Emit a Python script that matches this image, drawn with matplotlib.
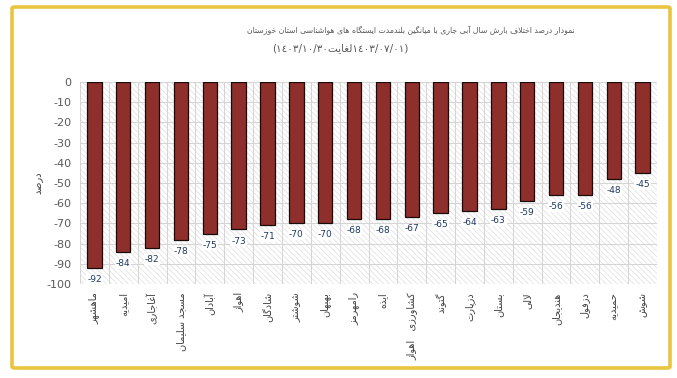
import matplotlib.pyplot as plt
from matplotlib.patches import FancyBboxPatch, Rectangle

plt.rcParams['font.family'] = ['DejaVu Sans']
plt.rcParams['hatch.linewidth'] = 0.5

title = 'نمودار درصد اختلاف بارش سال آبی جاری با میانگین بلندمدت ایستگاه های هواشناسی استان خوزستان'
subtitle_word = 'لغایت'
date_from = '١٤٠٣/٠٧/٠١'
date_to = '١٤٠٣/١٠/٣٠'
ylabel = 'درصد'

stations = ['ماهشهر', 'امیدیه', 'آغاجاری', 'مسجد سلیمان', 'آبادان', 'اهواز', 'شادگان',
            'شوشتر', 'بهبهان', 'رامهرمز', 'ایذه', 'کشاورزی   اهواز', 'گتوند', 'دزپارت',
            'بستان', 'لالی', 'هندیجان', 'دزفول', 'حمیدیه', 'شوش']
values = [-92, -84, -82, -78, -75, -73, -71, -70, -70, -68, -68, -67, -65, -64,
          -63, -59, -56, -56, -48, -45]
yticks = list(range(0, -101, -10))

# minimal arabic/persian shaping (matplotlib has no complex text layout)
DUAL = {
    'ئ': 'ﺉﺊﺋﺌ', 'ب': 'ﺏﺐﺑﺒ', 'پ': 'ﭖﭗﭘﭙ', 'ت': 'ﺕﺖﺗﺘ', 'ث': 'ﺙﺚﺛﺜ',
    'ج': 'ﺝﺞﺟﺠ', 'چ': 'ﭺﭻﭼﭽ', 'ح': 'ﺡﺢﺣﺤ', 'خ': 'ﺥﺦﺧﺨ', 'س': 'ﺱﺲﺳﺴ',
    'ش': 'ﺵﺶﺷﺸ', 'ص': 'ﺹﺺﺻﺼ', 'ض': 'ﺽﺾﺿﻀ', 'ط': 'ﻁﻂﻃﻄ', 'ظ': 'ﻅﻆﻇﻈ',
    'ع': 'ﻉﻊﻋﻌ', 'غ': 'ﻍﻎﻏﻐ', 'ف': 'ﻑﻒﻓﻔ', 'ق': 'ﻕﻖﻗﻘ', 'ک': 'ﮎﮏﮐﮑ',
    'گ': 'ﮒﮓﮔﮕ', 'ل': 'ﻝﻞﻟﻠ', 'م': 'ﻡﻢﻣﻤ', 'ن': 'ﻥﻦﻧﻨ', 'ه': 'ﻩﻪﻫﻬ',
    'ی': 'ﯼﯽﯾﯿ', 'ي': 'ﻱﻲﻳﻴ',
}
RIGHT = {
    'ا': 'ﺍﺎ', 'آ': 'ﺁﺂ', 'د': 'ﺩﺪ', 'ذ': 'ﺫﺬ', 'ر': 'ﺭﺮ', 'ز': 'ﺯﺰ',
    'ژ': 'ﮊﮋ', 'و': 'ﻭﻮ', 'ة': 'ﺓﺔ',
}
LAMALEF = {'ا': 'ﻻﻼ', 'آ': 'ﻵﻶ'}


def rtl(text):
    out = []
    i = 0
    while i < len(text):
        c = text[i]
        prev = text[i - 1] if i > 0 else ''
        nxt = text[i + 1] if i + 1 < len(text) else ''
        jp = prev in DUAL
        if c == 'ل' and nxt in LAMALEF:
            out.append(LAMALEF[nxt][1 if jp else 0])
            i += 2
            continue
        if c in DUAL:
            jn = nxt in DUAL or nxt in RIGHT
            idx = {(False, False): 0, (True, False): 1, (False, True): 2, (True, True): 3}[(jp, jn)]
            out.append(DUAL[c][idx])
        elif c in RIGHT:
            out.append(RIGHT[c][1 if jp else 0])
        else:
            out.append(c)
        i += 1
    return ''.join(out)[::-1]


fig = plt.figure(figsize=(6.77, 3.78), dpi=100)
fig.patch.set_facecolor('white')

# yellow frame
frame = FancyBboxPatch((12 / 677, 1 - 368 / 378), (670 - 12) / 677, (368 - 7) / 378,
                       boxstyle='round,pad=0,rounding_size=0.004', transform=fig.transFigure,
                       facecolor='none', edgecolor='#E9C440', linewidth=2.6)
fig.patches.append(frame)

ax = fig.add_axes([80 / 677, 1 - 284 / 378, 577 / 677, 202 / 378])
x = list(range(len(stations)))

ax.add_patch(Rectangle((-0.5, -100), len(stations), 100, facecolor='white',
                       edgecolor='#dedede', hatch='\\\\\\\\\\\\', linewidth=0, zorder=0))
for yv in yticks:
    ax.axhline(yv, color='#d4d4d4', linewidth=0.7, zorder=1)
for k in range(len(stations) + 1):
    ax.axvline(k - 0.5, color='#d4d4d4', linewidth=0.7, zorder=1)

ax.bar(x, values, width=0.5, color='#8E2F2C', edgecolor='#1a0a0a', linewidth=0.9, zorder=3)
for xi, v in zip(x, values):
    ax.text(xi, v - 3.5, str(v), ha='center', va='top', fontsize=6.5, color='#1F3864',
            zorder=4, bbox=dict(facecolor='white', edgecolor='none', pad=0.6))

ax.set_xlim(-0.5, len(stations) - 0.5)
ax.set_ylim(-100, 0)
ax.set_yticks(yticks)
ax.set_yticklabels([str(t) for t in yticks], fontsize=8, color='#595959')
ax.set_xticks(x)
ax.set_xticklabels([rtl(s) for s in stations], rotation=90, fontsize=7, color='#404040')
ax.tick_params(axis='both', length=0, pad=6)
for sp in ax.spines.values():
    sp.set_visible(False)

ax.set_ylabel(rtl(ylabel), fontsize=7, color='#404040', labelpad=2)

fig.text(411 / 677, 1 - 30 / 378, rtl(title), ha='center', va='center', fontsize=5.6, color='#595959')
fig.text(340 / 677, 1 - 48 / 378, '(' + date_to + rtl(subtitle_word) + date_from + ')',
         ha='center', va='center', fontsize=7.5, color='#595959')

fig.savefig('out.png', dpi=100)
